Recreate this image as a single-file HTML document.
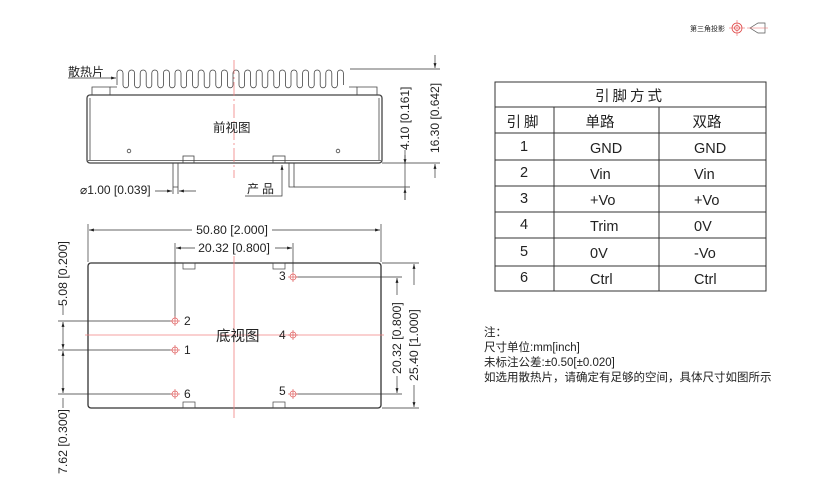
<!DOCTYPE html>
<html><head><meta charset="utf-8"><style>
html,body{margin:0;padding:0;background:#fff;}
svg{display:block;}
text{font-family:"Liberation Sans","Noto Sans CJK SC",sans-serif;fill:#222;}
</style></head><body>
<svg width="816" height="503" viewBox="0 0 816 503" xmlns="http://www.w3.org/2000/svg">
<defs>
<marker id="a" viewBox="0 0 10 10" refX="10" refY="5" markerWidth="7" markerHeight="7" orient="auto-start-reverse"><path d="M0,2 L10,5 L0,8z" fill="#222"/></marker>
</defs>
<text x="690" y="31" font-size="7">第三角投影</text>
<circle cx="737" cy="28" r="5" fill="none" stroke="#d44" stroke-width="0.8"/>
<circle cx="737" cy="28" r="2.5" fill="none" stroke="#d44" stroke-width="0.8"/>
<line x1="729" y1="28" x2="745" y2="28" stroke="#e66" stroke-width="0.6"/>
<line x1="737" y1="20" x2="737" y2="36" stroke="#e66" stroke-width="0.6"/>
<path d="M750,28 L758,23 L765,23 L765,33 L758,33z" fill="none" stroke="#555" stroke-width="0.7"/>
<line x1="747" y1="28" x2="768" y2="28" stroke="#e66" stroke-width="0.5"/>

<g stroke="#444" fill="none" stroke-width="0.8">
<path d="M117,85 v-12 a3 3 0 0 1 6 0 v12 a2.8 2.8 0 0 0 5.6 0 v-12 a3 3 0 0 1 6 0 v12 a2.8 2.8 0 0 0 5.6 0 v-12 a3 3 0 0 1 6 0 v12 a2.8 2.8 0 0 0 5.6 0 v-12 a3 3 0 0 1 6 0 v12 a2.8 2.8 0 0 0 5.6 0 v-12 a3 3 0 0 1 6 0 v12 a2.8 2.8 0 0 0 5.6 0 v-12 a3 3 0 0 1 6 0 v12 a2.8 2.8 0 0 0 5.6 0 v-12 a3 3 0 0 1 6 0 v12 a2.8 2.8 0 0 0 5.6 0 v-12 a3 3 0 0 1 6 0 v12 a2.8 2.8 0 0 0 5.6 0 v-12 a3 3 0 0 1 6 0 v12 a2.8 2.8 0 0 0 5.6 0 v-12 a3 3 0 0 1 6 0 v12 a2.8 2.8 0 0 0 5.6 0 v-12 a3 3 0 0 1 6 0 v12 a2.8 2.8 0 0 0 5.6 0 v-12 a3 3 0 0 1 6 0 v12 a2.8 2.8 0 0 0 5.6 0 v-12 a3 3 0 0 1 6 0 v12 a2.8 2.8 0 0 0 5.6 0 v-12 a3 3 0 0 1 6 0 v12 a2.8 2.8 0 0 0 5.6 0 v-12 a3 3 0 0 1 6 0 v12 a2.8 2.8 0 0 0 5.6 0 v-12 a3 3 0 0 1 6 0 v12 a2.8 2.8 0 0 0 5.6 0 v-12 a3 3 0 0 1 6 0 v12 a2.8 2.8 0 0 0 5.6 0 v-12 a3 3 0 0 1 6 0 v12 a2.8 2.8 0 0 0 5.6 0 v-12 a3 3 0 0 1 6 0 v12 a2.8 2.8 0 0 0 5.6 0 v-12 a3 3 0 0 1 6 0 v12"/>
<path d="M92,95 v-8 h18 v8 M357,95 v-8 h20 v8"/>
<path d="M110,87 h7 M349,87 h8"/>
<rect x="87" y="95" width="295" height="68" rx="3" stroke-width="1.3"/>
<line x1="90" y1="98" x2="90" y2="160"/><line x1="379" y1="98" x2="379" y2="160"/>
<line x1="88" y1="160.5" x2="381" y2="160.5"/>
<circle cx="129" cy="151" r="1.8"/><circle cx="338" cy="151" r="1.8"/>
<rect x="183" y="156" width="11" height="7"/><rect x="273" y="156" width="12" height="7"/>
<path d="M173,163 v31 M178,163 v31 M173,187 h5"/>
<path d="M289,163 v24 h5 v-24"/>
</g>
<line x1="234" y1="60" x2="234" y2="178" stroke="#f08080" stroke-width="0.8" stroke-dasharray="14,3,2,3"/>
<text x="213" y="132" font-size="12.5">前视图</text>
<text x="68" y="76" font-size="12">散热片</text>
<line x1="68" y1="78" x2="116" y2="78" stroke="#333" stroke-width="0.7" marker-end="url(#a)"/>
<text x="80" y="194" font-size="12">⌀1.00 [0.039]</text>
<g stroke="#333" stroke-width="0.7">
<line x1="155" y1="191" x2="172" y2="191" marker-end="url(#a)"/>
<line x1="196" y1="191" x2="179" y2="191" marker-end="url(#a)"/>
<path d="M245,196 H282 V165" fill="none" marker-end="url(#a)"/>
<line x1="350" y1="69" x2="440" y2="69"/>
<line x1="382" y1="163" x2="440" y2="163"/>
<line x1="294" y1="187" x2="410" y2="187"/>
<line x1="405" y1="150" x2="405" y2="164" marker-end="url(#a)"/>
<line x1="405" y1="200" x2="405" y2="188" marker-end="url(#a)"/>
<line x1="405" y1="155" x2="405" y2="200"/>
<line x1="435" y1="55" x2="435" y2="68" marker-end="url(#a)"/>
<line x1="435" y1="178" x2="435" y2="164" marker-end="url(#a)"/>
</g>
<text x="247" y="193" font-size="12" letter-spacing="3">产品</text>
<text transform="translate(409,150) rotate(-90)" font-size="12">4.10 [0.161]</text>
<text transform="translate(439,153) rotate(-90)" font-size="12">16.30 [0.642]</text>

<g stroke="#333" stroke-width="0.7" fill="none">
<line x1="88" y1="224" x2="88" y2="262"/><line x1="381" y1="224" x2="381" y2="262"/>
<line x1="192" y1="230" x2="89" y2="230" marker-end="url(#a)"/>
<line x1="272" y1="230" x2="380" y2="230" marker-end="url(#a)"/>
<line x1="175" y1="243" x2="175" y2="318"/><line x1="293" y1="243" x2="293" y2="272"/>
<line x1="195" y1="248" x2="176" y2="248" marker-end="url(#a)"/>
<line x1="275" y1="248" x2="292" y2="248" marker-end="url(#a)"/>
<line x1="296" y1="277" x2="402" y2="277"/>
<line x1="296" y1="394" x2="402" y2="394"/>
<line x1="382" y1="263" x2="419" y2="263"/>
<line x1="382" y1="408" x2="419" y2="408"/>
<line x1="397" y1="295" x2="397" y2="278" marker-end="url(#a)"/>
<line x1="397" y1="376" x2="397" y2="393" marker-end="url(#a)"/>
<line x1="414" y1="285" x2="414" y2="264" marker-end="url(#a)"/>
<line x1="414" y1="385" x2="414" y2="407" marker-end="url(#a)"/>
<line x1="58" y1="321" x2="172" y2="321"/>
<line x1="58" y1="350" x2="172" y2="350"/>
<line x1="58" y1="394" x2="172" y2="394"/>
<line x1="63" y1="336" x2="63" y2="322" marker-end="url(#a)"/>
<line x1="63" y1="336" x2="63" y2="349" marker-end="url(#a)"/>
<line x1="63" y1="372" x2="63" y2="351" marker-end="url(#a)"/>
<line x1="63" y1="372" x2="63" y2="393" marker-end="url(#a)"/>
<line x1="63" y1="305" x2="63" y2="315"/>
<line x1="63" y1="398" x2="63" y2="408"/>
</g>
<text x="232" y="234" font-size="12.3" text-anchor="middle">50.80 [2.000]</text>
<text x="234" y="252" font-size="12.3" text-anchor="middle">20.32 [0.800]</text>
<text transform="translate(401,374) rotate(-90)" font-size="12.3">20.32 [0.800]</text>
<text transform="translate(418,381) rotate(-90)" font-size="12.3">25.40 [1.000]</text>
<text transform="translate(67,306) rotate(-90)" font-size="12.3">5.08 [0.200]</text>
<text transform="translate(67,474) rotate(-90)" font-size="12.3">7.62 [0.300]</text>
<rect x="88" y="263" width="293" height="145" rx="3" fill="none" stroke="#333" stroke-width="1.3"/>
<g stroke="#444" stroke-width="0.7" fill="none">
<rect x="183" y="263" width="12" height="6"/><rect x="273" y="263" width="12" height="6"/>
<rect x="183" y="402" width="12" height="6"/><rect x="273" y="402" width="12" height="6"/>
</g>
<line x1="85" y1="335" x2="384" y2="335" stroke="#f08080" stroke-width="0.8"/>
<line x1="234" y1="256" x2="234" y2="418" stroke="#f08080" stroke-width="0.8"/>
<g stroke="#e06060" stroke-width="0.7" fill="none">
<circle cx="175" cy="321" r="3"/><line x1="170" y1="321" x2="180" y2="321"/><line x1="175" y1="316" x2="175" y2="326"/>
<circle cx="175" cy="350" r="3"/><line x1="170" y1="350" x2="180" y2="350"/><line x1="175" y1="345" x2="175" y2="355"/>
<circle cx="175" cy="394" r="3"/><line x1="170" y1="394" x2="180" y2="394"/><line x1="175" y1="389" x2="175" y2="399"/>
<circle cx="293" cy="277" r="3"/><line x1="288" y1="277" x2="298" y2="277"/><line x1="293" y1="272" x2="293" y2="282"/>
<circle cx="293" cy="335" r="3"/><line x1="288" y1="335" x2="298" y2="335"/><line x1="293" y1="330" x2="293" y2="340"/>
<circle cx="293" cy="394" r="3"/><line x1="288" y1="394" x2="298" y2="394"/><line x1="293" y1="389" x2="293" y2="399"/>
</g>
<g font-size="12">
<text x="184" y="325">2</text><text x="184" y="354">1</text><text x="184" y="398">6</text>
<text x="279" y="280">3</text><text x="279" y="339">4</text><text x="279" y="395">5</text>
</g>
<text x="216" y="341" font-size="14.5">底视图</text>

<g stroke="#333" stroke-width="1" fill="none">
<rect x="495" y="82" width="271" height="209"/>
<line x1="495" y1="107" x2="766" y2="107"/>
<line x1="495" y1="133" x2="766" y2="133"/>
<line x1="495" y1="160" x2="766" y2="160"/>
<line x1="495" y1="186" x2="766" y2="186"/>
<line x1="495" y1="212" x2="766" y2="212"/>
<line x1="495" y1="238" x2="766" y2="238"/>
<line x1="495" y1="266" x2="766" y2="266"/>
<line x1="554" y1="107" x2="554" y2="291"/>
<line x1="659" y1="107" x2="659" y2="291"/>
</g>
<g font-size="14.5">
<text x="630" y="101" text-anchor="middle" letter-spacing="3">引脚方式</text>
<text x="524" y="127" text-anchor="middle" letter-spacing="3">引脚</text>
<text x="600" y="127" text-anchor="middle">单路</text>
<text x="707" y="127" text-anchor="middle">双路</text>
<text x="524" y="151" text-anchor="middle">1</text><text x="590" y="153">GND</text><text x="694" y="153">GND</text>
<text x="524" y="177" text-anchor="middle">2</text><text x="590" y="179">Vin</text><text x="694" y="179">Vin</text>
<text x="524" y="203" text-anchor="middle">3</text><text x="590" y="205">+Vo</text><text x="694" y="205">+Vo</text>
<text x="524" y="229" text-anchor="middle">4</text><text x="590" y="231">Trim</text><text x="694" y="231">0V</text>
<text x="524" y="256" text-anchor="middle">5</text><text x="590" y="258">0V</text><text x="694" y="258">-Vo</text>
<text x="524" y="282" text-anchor="middle">6</text><text x="590" y="284">Ctrl</text><text x="694" y="284">Ctrl</text>
</g>
<g font-size="11.5">
<text x="484" y="336">注：</text>
<text x="484" y="351">尺寸单位:mm[inch]</text>
<text x="484" y="366">未标注公差:±0.50[±0.020]</text>
<text x="484" y="381">如选用散热片，请确定有足够的空间，具体尺寸如图所示</text>
</g>
</svg>
</body></html>
